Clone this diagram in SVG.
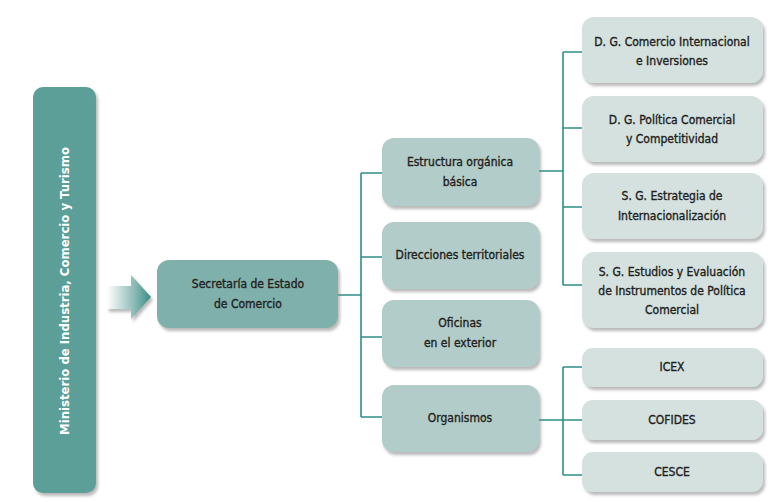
<svg xmlns="http://www.w3.org/2000/svg" width="774" height="502" viewBox="0 0 774 502">
<defs>
<filter id="sh" x="-10%" y="-10%" width="125%" height="135%">
<feDropShadow dx="2" dy="3" stdDeviation="1.6" flood-color="#808080" flood-opacity="0.55"/>
</filter>
<linearGradient id="ag" x1="0" y1="0" x2="1" y2="0">
<stop offset="0" stop-color="#ffffff"/>
<stop offset="0.6" stop-color="#8fbdb8"/>
<stop offset="1" stop-color="#3a8d86"/>
</linearGradient>
</defs>
<style>
.l1{fill:#5c9e98;}
.l2a{fill:#80b0ac;}
.l2{fill:#b2ccc9;}
.l3{fill:#d4e1df;}
text{font-family:"DejaVu Sans Condensed","Liberation Sans",sans-serif;font-size:12px;fill:#231f20;stroke:#231f20;stroke-width:0.35;text-anchor:middle;}
.w{fill:#ffffff;stroke:none;font-weight:bold;font-size:13px;}
.c{fill:none;stroke:#2e8f88;stroke-width:1.6;}
</style>
<rect width="774" height="502" fill="#ffffff"/>
<g id="ministerio">
<rect class="l1" x="33" y="87" width="63" height="406" rx="10" filter="url(#sh)"/>
<text class="w" transform="translate(69,291) rotate(-90)">Ministerio de Industria, Comercio y Turismo</text>
</g>
<g id="arrow">
<path d="M107,286 H131 V275 L151,297 L131,319 V309 H107 Z" fill="url(#ag)" filter="url(#sh)"/>
</g>
<g id="connectors">
<path class="c" d="M338,295 H361 M361,173 V417 M361,173 H382 M361,257 H382 M361,337 H382 M361,417 H382"/>
<path class="c" d="M539,171 H563 M563,52 V285 M563,52 H582 M563,128 H582 M563,207 H582 M563,285 H582"/>
<path class="c" d="M539,420 H582 M563,367 V475 M563,367 H582 M563,475 H582"/>
</g>
<g id="secretaria">
<rect class="l2a" x="157" y="260" width="181" height="68" rx="12" filter="url(#sh)"/>
<text x="248" y="288">Secretaría de Estado</text>
<text x="248" y="308">de Comercio</text>
</g>
<g id="estructura">
<rect class="l2" x="382" y="138" width="157" height="68" rx="12" filter="url(#sh)"/>
<text x="460" y="166">Estructura orgánica</text>
<text x="460" y="186">básica</text>
</g>
<g id="direcciones">
<rect class="l2" x="382" y="222" width="157" height="67" rx="12" filter="url(#sh)"/>
<text x="460" y="259">Direcciones territoriales</text>
</g>
<g id="oficinas">
<rect class="l2" x="382" y="300" width="157" height="67" rx="12" filter="url(#sh)"/>
<text x="460" y="327">Oficinas</text>
<text x="460" y="347">en el exterior</text>
</g>
<g id="organismos">
<rect class="l2" x="382" y="385" width="157" height="67" rx="12" filter="url(#sh)"/>
<text x="460" y="422">Organismos</text>
</g>
<g id="dg-comercio">
<rect class="l3" x="582" y="17" width="181" height="66" rx="12" filter="url(#sh)"/>
<text x="672" y="46">D. G. Comercio Internacional</text>
<text x="672" y="65">e Inversiones</text>
</g>
<g id="dg-politica">
<rect class="l3" x="582" y="96" width="181" height="66" rx="12" filter="url(#sh)"/>
<text x="672" y="124">D. G. Política Comercial</text>
<text x="672" y="143">y Competitividad</text>
</g>
<g id="sg-estrategia">
<rect class="l3" x="582" y="173" width="181" height="66" rx="12" filter="url(#sh)"/>
<text x="672" y="200">S. G. Estrategia de</text>
<text x="672" y="220">Internacionalización</text>
</g>
<g id="sg-estudios">
<rect class="l3" x="582" y="252" width="181" height="76" rx="12" filter="url(#sh)"/>
<text x="672" y="276">S. G. Estudios y Evaluación</text>
<text x="672" y="295">de Instrumentos de Política</text>
<text x="672" y="314">Comercial</text>
</g>
<g id="icex">
<rect class="l3" x="582" y="348" width="181" height="39" rx="11" filter="url(#sh)"/>
<text x="672" y="371">ICEX</text>
</g>
<g id="cofides">
<rect class="l3" x="582" y="400" width="181" height="40" rx="11" filter="url(#sh)"/>
<text x="672" y="424">COFIDES</text>
</g>
<g id="cesce">
<rect class="l3" x="582" y="452" width="181" height="40" rx="11" filter="url(#sh)"/>
<text x="672" y="476">CESCE</text>
</g>
</svg>
